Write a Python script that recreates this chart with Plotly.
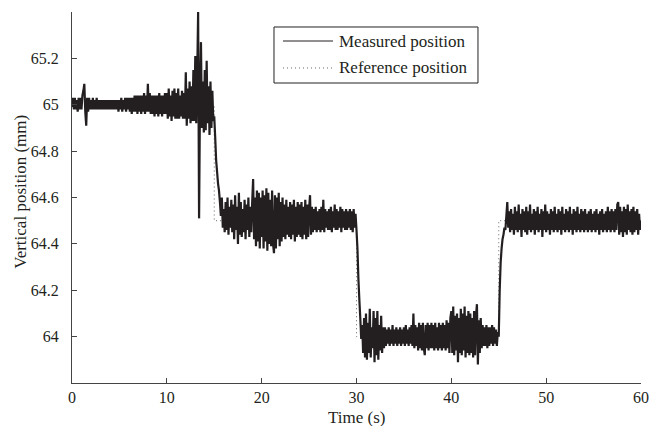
import plotly.graph_objects as go

# sample period of the logged position (s)
SAMPLE_PERIOD = 0.1

# reference (set point) position, mm
ref_time = [0, 15, 15, 30, 30, 45, 45, 60]
ref_pos = [65.0, 65.0, 64.5, 64.5, 64.0, 64.0, 64.5, 64.5]

# measured position, mm at 0.1 s steps
# 0.0 - 14.9 s
meas_seg1 = [
    64.99, 65.03, 64.98, 65.03, 64.98, 65.02, 64.97, 65.03, 64.98, 65.03,
    64.98, 65.04, 65.06, 65.09, 64.97, 64.91, 65.03, 64.97, 65.03, 64.98,
    65.02, 64.98, 65.03, 64.98, 65.02, 64.98, 65.03, 64.98, 65.02, 64.98,
    65.02, 64.98, 65.02, 64.98, 65.02, 64.98, 65.02, 64.98, 65.02, 64.98,
    65.02, 64.98, 65.02, 64.98, 65.02, 64.98, 65.02, 64.98, 65.02, 64.97,
    65.02, 64.98, 65.03, 64.97, 65.02, 64.98, 65.03, 64.97, 65.03, 64.98,
    65.03, 64.97, 65.03, 64.96, 65.03, 64.97, 65.04, 64.97, 65.04, 64.96,
    65.04, 64.97, 65.04, 64.96, 65.04, 64.97, 65.05, 64.96, 65.04, 64.97,
    65.09, 64.97, 65.05, 64.96, 65.04, 64.96, 65.04, 64.95, 65.04, 64.96,
    65.04, 64.95, 65.05, 64.96, 65.04, 64.95, 65.04, 64.96, 65.05, 64.96,
    65.05, 64.94, 65.07, 64.95, 65.04, 64.93, 65.06, 64.95, 65.07, 64.94,
    65.05, 64.94, 65.07, 64.94, 65.04, 64.95, 65.06, 64.94, 65.05, 64.94,
    65.14, 64.91, 65.07, 64.94, 65.10, 64.92, 65.08, 64.93, 65.15, 64.93,
    65.21, 64.92, 65.12, 65.40, 64.51, 65.05, 65.27, 64.90, 65.10, 64.88,
    65.15, 64.89, 65.19, 64.92, 65.08, 64.87, 65.10, 64.90, 65.06, 64.93,
]
# 15.0 - 29.9 s
meas_seg2 = [
    64.95, 64.86, 64.76, 64.71, 64.66, 64.63, 64.58, 64.52, 64.60, 64.47,
    64.55, 64.45, 64.58, 64.46, 64.60, 64.44, 64.56, 64.47, 64.59, 64.45,
    64.57, 64.42, 64.61, 64.46, 64.56, 64.40, 64.62, 64.44, 64.58, 64.43,
    64.55, 64.45, 64.59, 64.42, 64.57, 64.46, 64.60, 64.43, 64.56, 64.45,
    64.58, 64.68, 64.42, 64.60, 64.39, 64.63, 64.41, 64.62, 64.38, 64.60,
    64.43, 64.63, 64.38, 64.61, 64.41, 64.64, 64.37, 64.62, 64.40, 64.59,
    64.39, 64.63, 64.40, 64.36, 64.61, 64.38, 64.60, 64.42, 64.62, 64.39,
    64.58, 64.41, 64.60, 64.43, 64.57, 64.42, 64.59, 64.44, 64.56, 64.43,
    64.58, 64.42, 64.57, 64.44, 64.59, 64.41, 64.56, 64.43, 64.58, 64.44,
    64.57, 64.43, 64.58, 64.42, 64.56, 64.44, 64.59, 64.42, 64.57, 64.43,
    64.55, 64.61, 64.44, 64.56, 64.45, 64.55, 64.46, 64.56, 64.45, 64.54,
    64.46, 64.55, 64.45, 64.56, 64.46, 64.59, 64.45, 64.55, 64.47, 64.54,
    64.46, 64.55, 64.46, 64.56, 64.45, 64.54, 64.47, 64.57, 64.46, 64.55,
    64.46, 64.54, 64.47, 64.56, 64.45, 64.55, 64.47, 64.54, 64.46, 64.55,
    64.46, 64.54, 64.47, 64.55, 64.46, 64.54, 64.45, 64.55, 64.47, 64.53,
]
# 30.0 - 44.9 s
meas_seg3 = [
    64.46, 64.38, 64.25, 64.16, 64.08, 63.99, 64.05, 63.93, 64.08, 63.91,
    64.10, 63.90, 64.06, 63.93, 64.12, 63.91, 64.04, 63.95, 64.11, 63.89,
    64.08, 63.92, 64.11, 63.90, 64.05, 63.94, 64.09, 63.93, 64.04, 63.95,
    64.04, 63.96, 64.03, 63.97, 64.04, 63.96, 64.03, 63.97, 64.05, 63.96,
    64.03, 63.97, 64.04, 63.96, 64.03, 63.97, 64.04, 63.96, 64.03, 63.97,
    64.04, 63.96, 64.05, 63.97, 64.03, 63.96, 64.04, 63.97, 64.05, 63.96,
    64.10, 63.95, 64.05, 63.96, 64.04, 63.94, 64.06, 63.95, 64.05, 63.94,
    64.06, 63.95, 63.92, 64.05, 63.95, 64.06, 63.94, 64.05, 63.95, 64.06,
    63.95, 64.05, 63.94, 64.06, 63.95, 64.04, 63.94, 64.06, 63.95, 64.05,
    63.94, 64.06, 63.95, 64.05, 63.94, 64.07, 63.95, 64.06, 63.93, 64.08,
    64.11, 63.93, 64.13, 63.92, 64.09, 63.94, 64.10, 63.89, 64.08, 63.93,
    64.12, 63.92, 64.10, 63.94, 64.13, 63.91, 64.09, 63.93, 64.11, 63.92,
    64.10, 63.93, 64.08, 63.91, 64.11, 63.92, 64.09, 64.14, 63.88, 64.07,
    63.93, 64.08, 63.95, 64.05, 63.96, 64.04, 63.96, 64.05, 63.95, 64.04,
    63.96, 64.04, 63.97, 64.05, 63.96, 64.04, 63.97, 64.03, 63.96, 64.02,
]
# 45.0 - 60.0 s
meas_seg4 = [
    64.00, 64.20, 64.32, 64.38, 64.42, 64.44, 64.47, 64.46, 64.52, 64.58,
    64.47, 64.54, 64.45, 64.55, 64.46, 64.53, 64.44, 64.56, 64.46, 64.54,
    64.45, 64.57, 64.46, 64.53, 64.43, 64.55, 64.46, 64.54, 64.45, 64.56,
    64.44, 64.54, 64.46, 64.57, 64.45, 64.53, 64.46, 64.55, 64.44, 64.54,
    64.46, 64.56, 64.45, 64.53, 64.46, 64.55, 64.43, 64.54, 64.46, 64.57,
    64.45, 64.54, 64.46, 64.53, 64.44, 64.55, 64.46, 64.54, 64.45, 64.56,
    64.46, 64.53, 64.45, 64.55, 64.46, 64.54, 64.44, 64.56, 64.46, 64.53,
    64.45, 64.55, 64.46, 64.54, 64.45, 64.56, 64.46, 64.53, 64.44, 64.55,
    64.46, 64.54, 64.45, 64.56, 64.46, 64.53, 64.45, 64.55, 64.46, 64.54,
    64.45, 64.55, 64.46, 64.53, 64.45, 64.54, 64.46, 64.55, 64.45, 64.53,
    64.46, 64.54, 64.45, 64.55, 64.46, 64.53, 64.44, 64.54, 64.46, 64.55,
    64.45, 64.53, 64.46, 64.54, 64.45, 64.56, 64.46, 64.54, 64.45, 64.55,
    64.46, 64.54, 64.45, 64.55, 64.46, 64.57, 64.58, 64.44, 64.56, 64.45,
    64.54, 64.43, 64.56, 64.45, 64.55, 64.44, 64.57, 64.46, 64.54, 64.45,
    64.55, 64.44, 64.56, 64.45, 64.54, 64.46, 64.55, 64.44, 64.53, 64.46,
    64.50,
]

y_ticks = [64, 64.2, 64.4, 64.6, 64.8, 65, 65.2, 65.4]
y_tick_labels = ["64", "64.2", "64.4", "64.6", "64.8", "65", "65.2", ""]
x_ticks = [0, 10, 20, 30, 40, 50, 60]
legend_names = ["Measured position", "Reference position"]

meas_pos = meas_seg1 + meas_seg2 + meas_seg3 + meas_seg4
meas_time = [round(i * SAMPLE_PERIOD, 1) for i in range(len(meas_pos))]

INK = "#231f20"
FONT = "Liberation Serif"
REF_DASH = "1px,3px"

fig = go.Figure()
fig.add_trace(go.Scatter(x=ref_time, y=ref_pos, mode="lines",
                         name=legend_names[1], showlegend=False,
                         line=dict(color="#666666", width=1, dash=REF_DASH)))
fig.add_trace(go.Scatter(x=meas_time, y=meas_pos, mode="lines",
                         name=legend_names[0], showlegend=False,
                         line=dict(color=INK, width=2.2, simplify=False)))

axis_common = dict(showline=True, linecolor="#444444", linewidth=1,
                   ticks="inside", ticklen=5, tickcolor="#444444",
                   showgrid=False, zeroline=False, mirror=False,
                   automargin=False,
                   tickfont=dict(family=FONT, size=16, color=INK))

fig.update_xaxes(range=[0, 60], tickvals=x_ticks, **axis_common)
fig.update_yaxes(range=[63.8, 65.4], tickvals=y_ticks, ticktext=y_tick_labels,
                 ticklabelstandoff=9, **axis_common)

# axis titles
fig.add_annotation(text="Time (s)", xref="paper", yref="paper", x=0.5, y=-0.093,
                   xanchor="center", yanchor="middle", showarrow=False,
                   font=dict(family=FONT, size=17, color=INK))
fig.add_annotation(text="Vertical position (mm)", xref="paper", yref="paper",
                   x=-0.09, y=0.515, textangle=-90,
                   xanchor="center", yanchor="middle", showarrow=False,
                   font=dict(family=FONT, size=17, color=INK))

# legend box drawn by hand to match the original layout
fig.add_shape(type="rect", xref="paper", yref="paper",
              x0=0.355, x1=0.7135, y0=0.8086, y1=0.9596,
              line=dict(color="#222222", width=1), fillcolor="white", layer="above")
fig.add_shape(type="line", xref="paper", yref="paper",
              x0=0.3708, x1=0.4587, y0=0.9218, y1=0.9218,
              line=dict(color=INK, width=1), layer="above")
fig.add_shape(type="line", xref="paper", yref="paper",
              x0=0.3708, x1=0.4587, y0=0.8491, y1=0.8491,
              line=dict(color="#666666", width=1, dash=REF_DASH), layer="above")
for name, yy in zip(legend_names, [0.9218, 0.8491]):
    fig.add_annotation(text=name, xref="paper", yref="paper", x=0.4657, y=yy,
                       xanchor="left", yanchor="middle", showarrow=False,
                       font=dict(family=FONT, size=17, color=INK))

fig.update_layout(
    width=651, height=426,
    margin=dict(l=72, r=10, t=12, b=43),
    paper_bgcolor="white", plot_bgcolor="white",
    font=dict(family=FONT, size=16, color=INK),
    showlegend=False,
)

fig.write_html("out.html", config={"displayModeBar": False},
               post_script="document.body.style.margin='0';document.body.style.overflow='hidden';")
